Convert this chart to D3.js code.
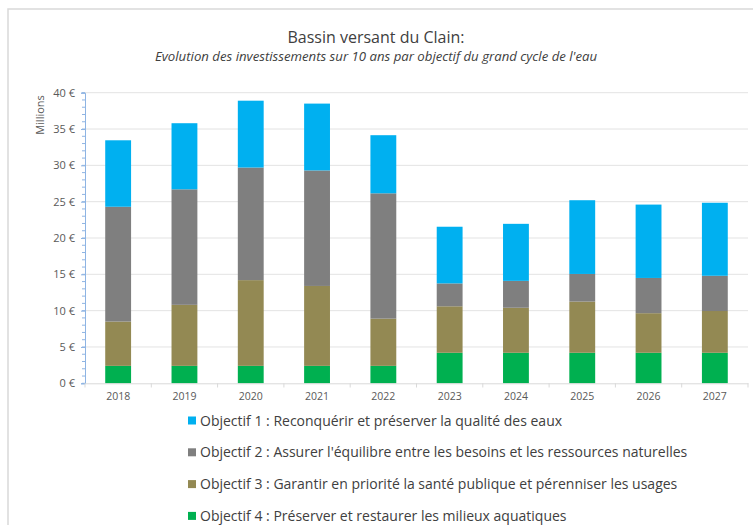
<!DOCTYPE html>
<html><head><meta charset="utf-8">
<script src="https://cdn.jsdelivr.net/npm/d3@7"></script>
<style>
body{margin:0;background:#fff;}
svg text{font-family:"Open Sans","Liberation Sans",sans-serif;}
</style></head>
<body><svg id="c" width="753" height="525"></svg>
<script>
const years = ["2018","2019","2020","2021","2022","2023","2024","2025","2026","2027"];
const obj4 = [2.4, 2.4, 2.4, 2.4, 2.4, 4.2, 4.2, 4.2, 4.2, 4.2];
const obj3 = [6.1, 8.4, 11.8, 11.0, 6.5, 6.4, 6.2, 7.05, 5.45, 5.75];
const obj2 = [15.8, 15.9, 15.5, 15.9, 17.25, 3.15, 3.7, 3.8, 4.85, 4.85];
const obj1 = [9.15, 9.1, 9.2, 9.2, 8.0, 7.8, 7.85, 10.15, 10.1, 10.05];
const seriesNames = [
  "Objectif 1 : Reconquérir et préserver la qualité des eaux",
  "Objectif 2 : Assurer l'équilibre entre les besoins et les ressources naturelles",
  "Objectif 3 : Garantir en priorité la santé publique et pérenniser les usages",
  "Objectif 4 : Préserver et restaurer les milieux aquatiques"
];
const colors = ["#00B0F0", "#7F7F7F", "#938953", "#00B050"];
const yTicks = [0,5,10,15,20,25,30,35,40];

const svg = d3.select("#c");
// border
svg.append("rect").attr("x",8).attr("y",9).attr("width",760).attr("height",540)
  .attr("fill","none").attr("stroke","#d9d9d9").attr("stroke-width",1.5);

svg.append("text").attr("x",376).attr("y",43).attr("text-anchor","middle")
  .attr("font-size",16).attr("fill","#404040").text("Bassin versant du Clain:");
svg.append("text").attr("x",376).attr("y",61).attr("text-anchor","middle")
  .attr("font-size",13.2).attr("font-style","italic").attr("fill","#404040")
  .text("Evolution des investissements sur 10 ans par objectif du grand cycle de l'eau");

const x = d3.scaleBand().domain(years).range([85,748]).paddingInner(0.61).paddingOuter(0.305);
const y = d3.scaleLinear().domain([0,40]).range([383.3,92.7]);

// gridlines
svg.append("g").selectAll("line").data(yTicks.slice(1)).join("line")
  .attr("x1",85).attr("x2",748).attr("y1",d=>y(d)).attr("y2",d=>y(d))
  .attr("stroke","#e3e3e3").attr("stroke-width",1);

// stacks
const keys = ["o4","o3","o2","o1"];
const rows = years.map((yr,i)=>({year:yr,o4:obj4[i],o3:obj3[i],o2:obj2[i],o1:obj1[i]}));
const stack = d3.stack().keys(keys)(rows);
const colMap = {o1:colors[0],o2:colors[1],o3:colors[2],o4:colors[3]};
svg.append("g").selectAll("g").data(stack).join("g").attr("fill",d=>colMap[d.key])
  .selectAll("rect").data(d=>d).join("rect")
  .attr("x",d=>x(d.data.year)).attr("width",x.bandwidth())
  .attr("y",d=>y(d[1])).attr("height",d=>y(d[0])-y(d[1]));

// y axis
const yAxis = svg.append("g").attr("transform","translate(85,0)")
  .call(d3.axisLeft(y).tickValues(yTicks).tickSize(4).tickPadding(6).tickFormat(d=>d+" €"));
yAxis.select(".domain").attr("stroke","#8EB4E3");
yAxis.selectAll(".tick line").attr("stroke","#8EB4E3");
yAxis.selectAll("text").attr("font-size",11).attr("fill","#595959");
// minor ticks
svg.append("g").selectAll("line").data(d3.range(0,41)).join("line")
  .attr("x1",82).attr("x2",85).attr("y1",d=>y(d)).attr("y2",d=>y(d))
  .attr("stroke","#8EB4E3");

// x axis
const xAxis = svg.append("g").attr("transform","translate(0,383.3)")
  .call(d3.axisBottom(x).tickSize(0).tickPadding(9));
xAxis.select(".domain").attr("stroke","#d9d9d9");
xAxis.selectAll("text").attr("font-size",10.5).attr("fill","#595959");
svg.append("g").selectAll("line").data(d3.range(0,11)).join("line")
  .attr("x1",d=>85+d*x.step()).attr("x2",d=>85+d*x.step())
  .attr("y1",383.3).attr("y2",387.5).attr("stroke","#d9d9d9");

// y label
svg.append("text").attr("transform","translate(44,115) rotate(-90)")
  .attr("text-anchor","middle").attr("font-size",11).attr("fill","#595959").text("Millions");

// legend
const lg = svg.append("g").selectAll("g").data(seriesNames).join("g")
  .attr("transform",(d,i)=>`translate(188,${420.5+i*31.8})`);
lg.append("rect").attr("x",0).attr("y",-4).attr("width",8).attr("height",8).attr("fill",(d,i)=>colors[i]);
lg.append("text").attr("x",12).attr("y",5).attr("font-size",14).attr("fill","#404040").text(d=>d);
</script></body></html>
